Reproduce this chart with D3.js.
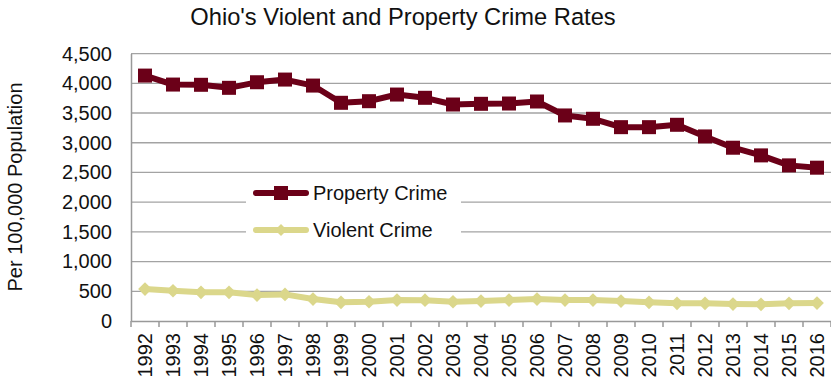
<!DOCTYPE html>
<html><head><meta charset="utf-8">
<script src="https://cdn.jsdelivr.net/npm/d3@7"></script>
<style>body{margin:0;background:#fff;}svg{display:block;font-family:"Liberation Sans",Arial,sans-serif;}</style>
</head><body>
<svg id="c" width="831" height="382"></svg>
<script>
const years = ["1992","1993","1994","1995","1996","1997","1998","1999","2000","2001","2002","2003","2004","2005","2006","2007","2008","2009","2010","2011","2012","2013","2014","2015","2016"];
const propertyCrime = [4130,3979,3975,3924,4018,4063,3962,3672,3699,3811,3756,3643,3655,3660,3694,3459,3403,3262,3262,3302,3106,2916,2787,2619,2580];
const violentCrime = [537,509,482,482,437,448,369,314,324,352,350,324,336,352,369,352,352,336,314,297,297,285,280,297,302];
const yTicks = [0,500,1000,1500,2000,2500,3000,3500,4000,4500];
const seriesNames = ["Property Crime","Violent Crime"];
const colors = ["#6b0018","#dbd78b"];

const svg = d3.select("#c");
const pLeft = 131, pRight = 831, pTop = 53.6, pBottom = 321;
const x = d3.scaleBand().domain(years).range([pLeft, pRight]);
const y = d3.scaleLinear().domain([0,4500]).range([pBottom, pTop]);

// gridlines
svg.append("g").selectAll("line").data(yTicks.slice(1)).join("line")
  .attr("x1", pLeft).attr("x2", pRight).attr("y1", d=>y(d)).attr("y2", d=>y(d))
  .attr("stroke", "#a3a3a3").attr("stroke-width", 1.3);

// y axis
const ya = svg.append("g").attr("transform", `translate(${pLeft},0)`)
  .call(d3.axisLeft(y).tickValues(yTicks).tickSize(0).tickPadding(19).tickFormat(d3.format(",")));
ya.select(".domain").attr("stroke", "#999").attr("stroke-width", 1.5);
ya.selectAll("text").attr("font-size", 20).attr("fill", "#111").attr("font-family", "Liberation Sans, Arial, sans-serif");

// x axis
const xa = svg.append("g").attr("transform", `translate(0,${pBottom})`)
  .call(d3.axisBottom(x).tickSize(0).tickPadding(0));
xa.select(".domain").attr("stroke", "#999").attr("stroke-width", 1.5);
xa.selectAll(".tick text").attr("font-size", 20).attr("fill", "#111")
  .attr("font-family", "Liberation Sans, Arial, sans-serif")
  .attr("text-anchor", "end").attr("dy", "0.35em")
  .attr("transform", "translate(0,12) rotate(-90)");
// boundary tick marks
svg.append("g").selectAll("line").data(years.concat(["end"])).join("line")
  .attr("x1", (d,i)=>pLeft + i*x.step()).attr("x2", (d,i)=>pLeft + i*x.step())
  .attr("y1", pBottom).attr("y2", pBottom+6).attr("stroke", "#999").attr("stroke-width", 1.5);

const line = d3.line().x((d,i)=>x(years[i]) + x.bandwidth()/2).y(d=>y(d));

// violent
svg.append("path").datum(violentCrime).attr("d", line).attr("fill","none")
  .attr("stroke", colors[1]).attr("stroke-width", 6).attr("stroke-linejoin","round");
const diamond = d3.symbol().type(d3.symbolDiamond2).size(120);
svg.append("g").selectAll("path").data(violentCrime).join("path")
  .attr("d", diamond)
  .attr("transform", (d,i)=>`translate(${x(years[i])+x.bandwidth()/2},${y(d)})`)
  .attr("fill", colors[1]);

// property
svg.append("path").datum(propertyCrime).attr("d", line).attr("fill","none")
  .attr("stroke", colors[0]).attr("stroke-width", 6).attr("stroke-linejoin","round");
svg.append("g").selectAll("rect").data(propertyCrime).join("rect")
  .attr("x", (d,i)=>x(years[i])+x.bandwidth()/2-7).attr("y", d=>y(d)-7)
  .attr("width", 14).attr("height", 14).attr("fill", colors[0]);

// legend
const lg = svg.append("g");
lg.append("rect").attr("x", 246).attr("y", 176).attr("width", 215).attr("height", 70).attr("fill", "#fff");
const ly = [193, 230];
seriesNames.forEach((n,i)=>{
  lg.append("line").attr("x1", 256).attr("x2", 306).attr("y1", ly[i]).attr("y2", ly[i])
    .attr("stroke", colors[i]).attr("stroke-width", 6).attr("stroke-linecap","round");
  if(i===0){
    lg.append("rect").attr("x", 274).attr("y", ly[i]-7).attr("width", 14).attr("height", 14).attr("fill", colors[0]);
  } else {
    lg.append("path").attr("d", d3.symbol().type(d3.symbolDiamond2).size(90)).attr("transform", `translate(281,${ly[i]})`).attr("fill", colors[1]);
  }
  lg.append("text").attr("x", 313).attr("y", ly[i]).attr("dy", "0.35em").attr("font-size", 20).attr("fill", "#111").text(n);
});

// title
svg.append("text").attr("x", 403).attr("y", 25).attr("text-anchor", "middle").attr("font-size", 23.7).attr("fill", "#111")
  .text("Ohio's Violent and Property Crime Rates");
// y title
svg.append("text").attr("transform", "translate(22,187) rotate(-90)").attr("text-anchor", "middle").attr("font-size", 20).attr("fill", "#111")
  .text("Per 100,000 Population");
</script>
</body></html>
